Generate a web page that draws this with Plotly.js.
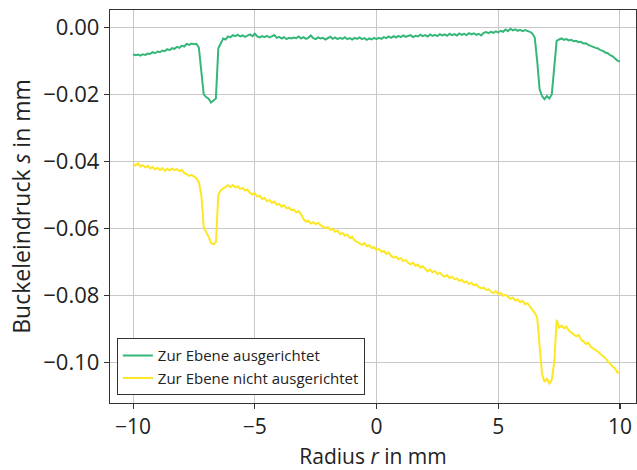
<!DOCTYPE html>
<html>
<head>
<meta charset="utf-8">
<script src="https://cdn.plot.ly/plotly-3.0.1.min.js"></script>
<style>html,body{margin:0;padding:0;background:#fff;}#chart{width:637px;height:470px;}</style>
</head>
<body>
<div id="chart"></div>
<script>
// Radius r in mm
const radius = [
-10.0,-9.9,-9.8,-9.7,-9.6,-9.5,-9.4,-9.3,-9.2,-9.1,
-9.0,-8.9,-8.8,-8.7,-8.6,-8.5,-8.4,-8.3,-8.2,-8.1,
-8.0,-7.9,-7.8,-7.7,-7.6,-7.5,-7.4,-7.3,-7.2,-7.1,
-7.0,-6.9,-6.8,-6.7,-6.6,-6.5,-6.4,-6.3,-6.2,-6.1,
-6.0,-5.9,-5.8,-5.7,-5.6,-5.5,-5.4,-5.3,-5.2,-5.1,
-5.0,-4.9,-4.8,-4.7,-4.6,-4.5,-4.4,-4.3,-4.2,-4.1,
-4.0,-3.9,-3.8,-3.7,-3.6,-3.5,-3.4,-3.3,-3.2,-3.1,
-3.0,-2.9,-2.8,-2.7,-2.6,-2.5,-2.4,-2.3,-2.2,-2.1,
-2.0,-1.9,-1.8,-1.7,-1.6,-1.5,-1.4,-1.3,-1.2,-1.1,
-1.0,-0.9,-0.8,-0.7,-0.6,-0.5,-0.4,-0.3,-0.2,-0.1,
0.0,0.1,0.2,0.3,0.4,0.5,0.6,0.7,0.8,0.9,
1.0,1.1,1.2,1.3,1.4,1.5,1.6,1.7,1.8,1.9,
2.0,2.1,2.2,2.3,2.4,2.5,2.6,2.7,2.8,2.9,
3.0,3.1,3.2,3.3,3.4,3.5,3.6,3.7,3.8,3.9,
4.0,4.1,4.2,4.3,4.4,4.5,4.6,4.7,4.8,4.9,
5.0,5.1,5.2,5.3,5.4,5.5,5.6,5.7,5.8,5.9,
6.0,6.1,6.2,6.3,6.4,6.5,6.6,6.7,6.8,6.9,
7.0,7.1,7.2,7.3,7.4,7.5,7.6,7.7,7.8,7.9,
8.0,8.1,8.2,8.3,8.4,8.5,8.6,8.7,8.8,8.9,
9.0,9.1,9.2,9.3,9.4,9.5,9.6,9.7,9.8,9.9,
10.0
];

// Zur Ebene ausgerichtet (mm)
const sAligned = [
-0.0080,-0.0083,-0.0081,-0.0084,-0.0080,-0.0082,-0.0078,-0.0079,-0.0074,-0.0077,
-0.0072,-0.0074,-0.0069,-0.0071,-0.0065,-0.0068,-0.0062,-0.0064,-0.0058,-0.0061,
-0.0055,-0.0057,-0.0049,-0.0052,-0.0048,-0.0050,-0.0049,-0.0060,-0.0130,-0.0200,
-0.0208,-0.0213,-0.0224,-0.0219,-0.0212,-0.0062,-0.0045,-0.0033,-0.0036,-0.0027,
-0.0029,-0.0023,-0.0026,-0.0022,-0.0027,-0.0024,-0.0028,-0.0025,-0.0021,-0.0026,
-0.0019,-0.0027,-0.0030,-0.0026,-0.0029,-0.0025,-0.0030,-0.0027,-0.0023,-0.0031,
-0.0028,-0.0033,-0.0029,-0.0035,-0.0031,-0.0033,-0.0030,-0.0032,-0.0027,-0.0033,
-0.0029,-0.0034,-0.0031,-0.0024,-0.0032,-0.0035,-0.0030,-0.0033,-0.0031,-0.0036,
-0.0032,-0.0028,-0.0034,-0.0030,-0.0035,-0.0031,-0.0034,-0.0029,-0.0035,-0.0032,
-0.0036,-0.0031,-0.0034,-0.0030,-0.0035,-0.0032,-0.0037,-0.0033,-0.0036,-0.0031,
-0.0035,-0.0031,-0.0034,-0.0029,-0.0032,-0.0027,-0.0031,-0.0026,-0.0030,-0.0025,
-0.0029,-0.0024,-0.0028,-0.0026,-0.0023,-0.0029,-0.0025,-0.0027,-0.0022,-0.0026,
-0.0023,-0.0027,-0.0021,-0.0025,-0.0022,-0.0026,-0.0020,-0.0024,-0.0021,-0.0025,
-0.0019,-0.0023,-0.0020,-0.0024,-0.0018,-0.0022,-0.0019,-0.0023,-0.0017,-0.0021,
-0.0018,-0.0022,-0.0019,-0.0024,-0.0016,-0.0014,-0.0017,-0.0013,-0.0016,-0.0012,
-0.0015,-0.0010,-0.0013,-0.0006,-0.0011,-0.0004,-0.0009,-0.0006,-0.0010,-0.0007,
-0.0011,-0.0008,-0.0010,-0.0013,-0.0018,-0.0030,-0.0100,-0.0185,-0.0205,-0.0214,
-0.0205,-0.0212,-0.0200,-0.0115,-0.0040,-0.0036,-0.0033,-0.0037,-0.0035,-0.0039,
-0.0037,-0.0041,-0.0040,-0.0044,-0.0043,-0.0048,-0.0047,-0.0052,-0.0054,-0.0058,
-0.0061,-0.0063,-0.0068,-0.0070,-0.0075,-0.0077,-0.0083,-0.0086,-0.0093,-0.0099,
-0.0102
];

// Zur Ebene nicht ausgerichtet (mm)
const sNotAligned = [
-0.0408,-0.0412,-0.0406,-0.0415,-0.0411,-0.0418,-0.0413,-0.0421,-0.0416,-0.0424,
-0.0419,-0.0426,-0.0420,-0.0428,-0.0422,-0.0427,-0.0421,-0.0426,-0.0423,-0.0429,
-0.0425,-0.0435,-0.0438,-0.0443,-0.0440,-0.0446,-0.0450,-0.0462,-0.0500,-0.0596,
-0.0610,-0.0625,-0.0643,-0.0648,-0.0641,-0.0500,-0.0486,-0.0480,-0.0476,-0.0471,
-0.0477,-0.0470,-0.0478,-0.0474,-0.0482,-0.0479,-0.0487,-0.0484,-0.0494,-0.0498,
-0.0495,-0.0505,-0.0502,-0.0512,-0.0509,-0.0519,-0.0515,-0.0524,-0.0520,-0.0529,
-0.0527,-0.0535,-0.0531,-0.0540,-0.0537,-0.0546,-0.0543,-0.0552,-0.0548,-0.0558,
-0.0572,-0.0580,-0.0577,-0.0585,-0.0581,-0.0587,-0.0583,-0.0590,-0.0594,-0.0599,
-0.0596,-0.0604,-0.0601,-0.0610,-0.0606,-0.0617,-0.0613,-0.0622,-0.0618,-0.0628,
-0.0625,-0.0636,-0.0640,-0.0645,-0.0649,-0.0644,-0.0653,-0.0650,-0.0658,-0.0655,
-0.0665,-0.0661,-0.0670,-0.0667,-0.0676,-0.0672,-0.0682,-0.0687,-0.0684,-0.0692,
-0.0688,-0.0698,-0.0694,-0.0703,-0.0707,-0.0702,-0.0712,-0.0708,-0.0717,-0.0713,
-0.0722,-0.0728,-0.0723,-0.0731,-0.0727,-0.0736,-0.0732,-0.0740,-0.0744,-0.0739,
-0.0748,-0.0744,-0.0752,-0.0749,-0.0757,-0.0753,-0.0761,-0.0758,-0.0766,-0.0762,
-0.0770,-0.0767,-0.0775,-0.0779,-0.0776,-0.0784,-0.0781,-0.0789,-0.0793,-0.0787,
-0.0796,-0.0792,-0.0801,-0.0798,-0.0804,-0.0810,-0.0806,-0.0815,-0.0812,-0.0820,
-0.0816,-0.0826,-0.0823,-0.0832,-0.0840,-0.0852,-0.0866,-0.0950,-0.1035,-0.1058,
-0.1049,-0.1063,-0.1052,-0.1000,-0.0873,-0.0896,-0.0890,-0.0898,-0.0893,-0.0905,
-0.0910,-0.0916,-0.0922,-0.0918,-0.0932,-0.0937,-0.0945,-0.0941,-0.0953,-0.0958,
-0.0962,-0.0968,-0.0975,-0.0981,-0.0987,-0.0996,-0.1005,-0.1012,-0.1018,-0.1031,
-0.1028
];

const seriesNames = ['Zur Ebene ausgerichtet', 'Zur Ebene nicht ausgerichtet'];
const seriesColors = ['#35b779', '#fde725'];

const traces = [
  {x: radius, y: sAligned, name: seriesNames[0], type: 'scatter', mode: 'lines',
   line: {color: seriesColors[0], width: 2}},
  {x: radius, y: sNotAligned, name: seriesNames[1], type: 'scatter', mode: 'lines',
   line: {color: seriesColors[1], width: 2}}
];

const fontFamily = '"Open Sans", "Noto Sans", "DejaVu Sans", sans-serif';
const axisCommon = {
  showline: true, mirror: true, linecolor: '#333', linewidth: 1.2,
  ticks: 'outside', ticklen: 5, tickwidth: 1.2, tickcolor: '#333',
  showgrid: true, gridcolor: '#c8c8c8', gridwidth: 1,
  zeroline: false,
  tickfont: {family: fontFamily, size: 22, color: '#222'}
};

const layout = {
  width: 637, height: 470, autosize: false,
  margin: {l: 110, r: 1, t: 10, b: 67},
  paper_bgcolor: '#fff', plot_bgcolor: '#fff',
  font: {family: fontFamily, color: '#222'},
  showlegend: true,
  legend: {
    x: 0.013, y: 0.02, xanchor: 'left', yanchor: 'bottom',
    bgcolor: '#fff', bordercolor: '#333', borderwidth: 1,
    font: {family: fontFamily, size: 15, color: '#222'},
    tracegroupgap: 0
  },
  xaxis: Object.assign({}, axisCommon, {
    range: [-10.95, 10.66], tickmode: 'linear', tick0: 0, dtick: 5,
    tickfont: {family: fontFamily, size: 21, color: '#222'},
    title: {text: 'Radius <i>r</i> in mm', font: {family: fontFamily, size: 21, color: '#222'}, standoff: 9}
  }),
  yaxis: Object.assign({}, axisCommon, {
    range: [-0.1121, 0.0052], tickmode: 'linear', tick0: 0, dtick: 0.02, tickformat: '.2f',
    title: {text: 'Buckeleindruck <i>s</i> in mm', font: {family: fontFamily, size: 23, color: '#222'}, standoff: 6}
  })
};

Plotly.newPlot('chart', traces, layout, {staticPlot: true, displayModeBar: false});
</script>
</body>
</html>
